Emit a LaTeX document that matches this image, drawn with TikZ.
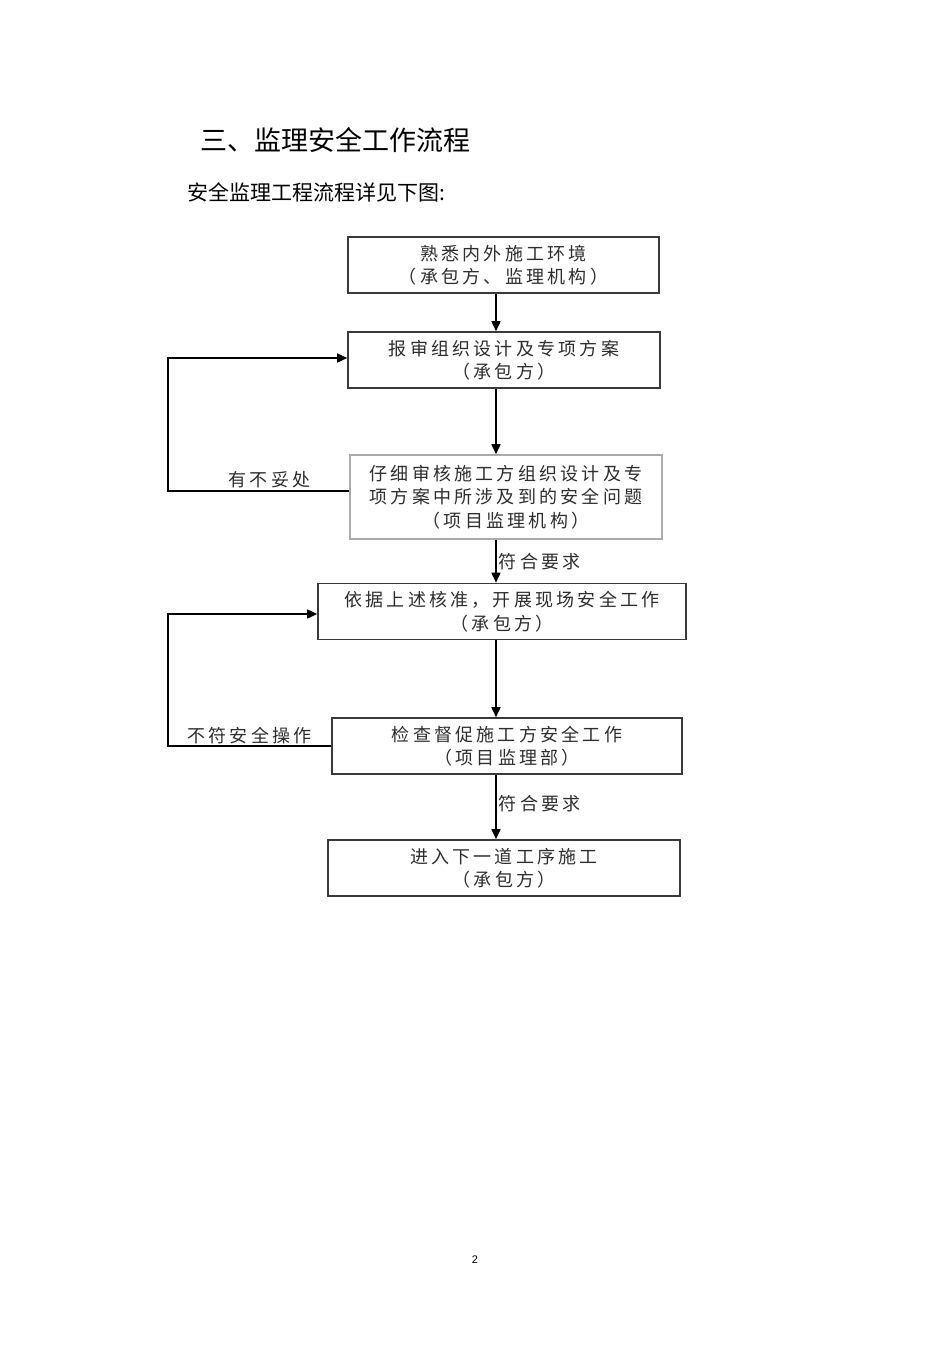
\documentclass[tikz,border=0pt]{standalone}
\usepackage{fontspec}
\usetikzlibrary{arrows.meta, positioning, calc}
\newfontfamily\cjkfont{Noto Sans CJK SC}
\newfontfamily\boxfont[LetterSpace=18]{Noto Sans CJK SC}
\newfontfamily\pagefont{Liberation Sans}
\definecolor{boxline}{RGB}{58, 58, 58}
\definecolor{softline}{RGB}{170, 170, 170}
\definecolor{textgray}{RGB}{45, 45, 45}
\tikzset{
  stepbox/.style={
    draw=boxline, line width=1.6pt, fill=white,
    minimum height=56pt, inner sep=0pt, align=center,
    font=\boxfont\fontsize{18}{23.5}\selectfont, text=textgray
  },
  checkbox/.style={stepbox, draw=softline, minimum height=84pt},
  arr/.style={-{Triangle[length=10pt, width=9pt]}, line width=1.6pt, black},
  back/.style={-{Triangle[length=10pt, width=9pt]}, line width=1.6pt, black},
  lbl/.style={font=\boxfont\fontsize{18}{22}\selectfont, text=textgray, inner sep=2pt},
}

\begin{document}
\begin{tikzpicture}[x=1pt, y=-1pt]

  \useasboundingbox (0,0) rectangle (950,1345);

  % heading
  \node[anchor=west, inner sep=0pt, font=\cjkfont\fontsize{27}{31}\selectfont]
    (title) at (200, 140) {三、监理安全工作流程};
  \node[anchor=west, inner sep=0pt, font=\cjkfont\fontsize{21}{25}\selectfont]
    (intro) at (187, 192) {安全监理工程流程详见下图:};

  % ============ STEPS ============
  \node[stepbox, minimum width=311pt]  (b1) at (503.5, 265) {熟悉内外施工环境\\（承包方、监理机构）};
  \node[stepbox, minimum width=312pt]  (b2) at (504, 360)   {报审组织设计及专项方案\\（承包方）};
  \node[checkbox, minimum width=312pt] (b3) at (506, 497)   {仔细审核施工方组织设计及专\\项方案中所涉及到的安全问题\\（项目监理机构）};
  \node[stepbox, minimum width=368pt]  (b4) at (502, 611.5) {依据上述核准，开展现场安全工作\\（承包方）};
  \node[stepbox, minimum width=350pt]  (b5) at (507, 746)   {检查督促施工方安全工作\\（项目监理部）};
  \node[stepbox, minimum width=352pt]  (b6) at (504, 868)   {进入下一道工序施工\\（承包方）};

  % column of the main arrows and of the return lines
  \coordinate (ax) at (496, 0);
  \coordinate (lx) at (168, 0);

  % ============ MAIN FLOW ============
  \draw[arr] (b1.south -| ax) -- (b2.north -| ax);
  \draw[arr] (b2.south -| ax) -- (b3.north -| ax);
  \draw[arr] (b3.south -| ax) -- (b4.north -| ax)
    node[midway, right, lbl] {符合要求};
  \draw[arr] (b4.south -| ax) -- (b5.north -| ax);
  \draw[arr] (b5.south -| ax) -- (b6.north -| ax)
    node[midway, right, lbl, yshift=3pt] {符合要求};

  % ============ RETURN LOOPS ============
  \draw[back] ([yshift=6pt]b3.west) -- ([yshift=6pt]b3.west -| lx)
    node[pos=0.44, above, lbl] {有不妥处}
    |- ([yshift=2pt]b2.west);
  \draw[back] (b5.west) -- (b5.west -| lx)
    node[midway, above, lbl, inner sep=1pt] {不符安全操作}
    |- ([yshift=-2.5pt]b4.west);

  % page number
  \node[font=\pagefont\fontsize{11}{13}\selectfont] (page) at (475, 1260) {2};

\end{tikzpicture}
\end{document}
